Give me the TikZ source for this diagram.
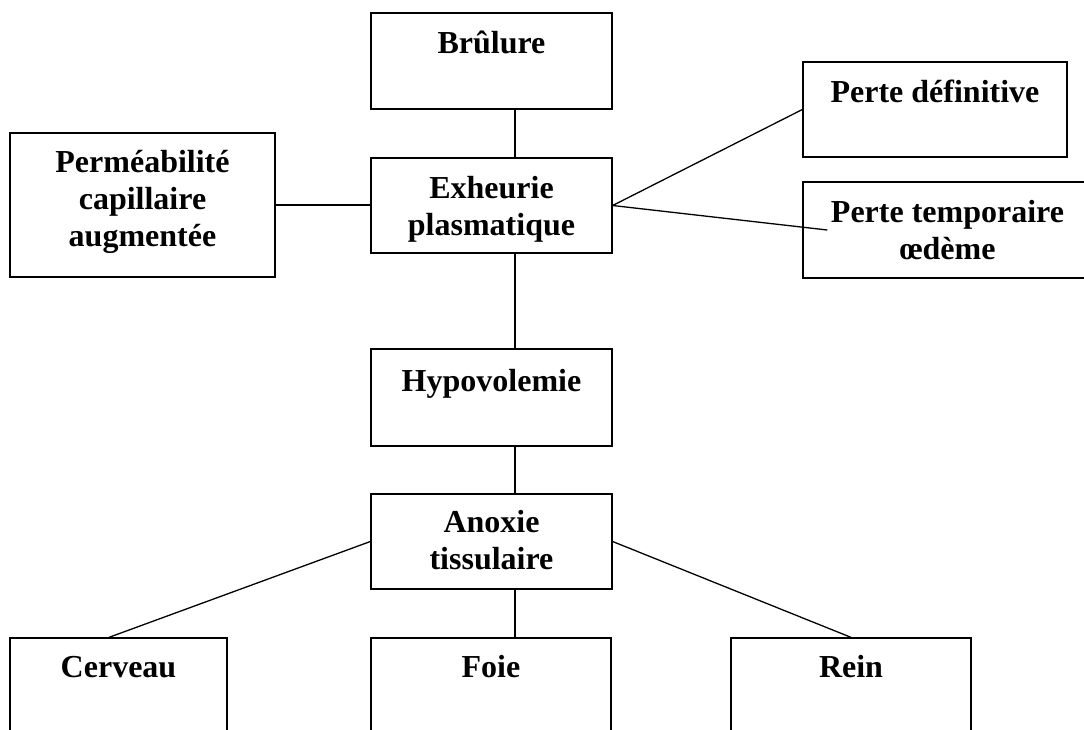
\documentclass[tikz,border=0pt]{standalone}
\usepackage{fontspec}
\setmainfont{Liberation Serif}
\usetikzlibrary{calc}
\newcommand\fstrut{\rule{0pt}{26pt}}
\begin{document}
\begin{tikzpicture}[x=1pt,y=-1pt,
  box/.style={draw=black, line width=1.3pt, rectangle, inner sep=0pt},
  lbl/.style={anchor=north, inner sep=0pt, align=center, font=\fontsize{32}{37}\selectfont\bfseries},
  link/.style={draw=black, line width=1.3pt}]
\useasboundingbox (0,0) rectangle (1084,729);
\clip (0,0) rectangle (1084,729);

% boxes
\node[box, minimum width=241pt, minimum height=96pt]  (brulure)  at (491.5,61)    {};
\node[box, minimum width=241pt, minimum height=95pt]  (exheurie) at (491.5,205.5) {};
\node[box, minimum width=265pt, minimum height=144pt] (perm)     at (142.5,205)   {};
\node[box, minimum width=264pt, minimum height=95pt]  (pdef)     at (935,109.5)   {};
\node[box, minimum width=289pt, minimum height=96pt]  (ptemp)    at (947.5,230)   {};
\node[box, minimum width=241pt, minimum height=97pt]  (hypo)     at (491.5,397.5) {};
\node[box, minimum width=241pt, minimum height=95pt]  (anoxie)   at (491.5,541.5) {};
\node[box, minimum width=217pt, minimum height=100pt] (cerveau)  at (118.5,688)   {};
\node[box, minimum width=240pt, minimum height=100pt] (foie)     at (491,688)     {};
\node[box, minimum width=240pt, minimum height=100pt] (rein)     at (851,688)     {};

% texts
\node[lbl] (tbrulure)  at ($(brulure.north)+(0,15)$)  {\fstrut Brûlure};
\node[lbl] (texheurie) at ($(exheurie.north)+(0,15)$) {\fstrut Exheurie\\plasmatique};
\node[lbl] (tperm)     at ($(perm.north)+(0,14)$)     {\fstrut Perméabilité\\capillaire\\augmentée};
\node[lbl] (tpdef)     at ($(pdef.north)+(0,15)$)     {\fstrut Perte définitive};
\node[lbl] (tptemp)    at ($(ptemp.north)+(0,15)$)    {\fstrut Perte temporaire\\œdème};
\node[lbl] (thypo)     at ($(hypo.north)+(0,17)$)     {\fstrut Hypovolemie};
\node[lbl] (tanoxie)   at ($(anoxie.north)+(0,13)$)   {\fstrut Anoxie\\tissulaire};
\node[lbl] (tcerveau)  at ($(cerveau.north)+(0,14)$)  {\fstrut Cerveau};
\node[lbl] (tfoie)     at ($(foie.north)+(0,14)$)     {\fstrut Foie};
\node[lbl] (trein)     at ($(rein.north)+(0,14)$)     {\fstrut Rein};

% helper coordinates
\coordinate (spine) at (515,0);
\coordinate (ptempend) at ($(ptemp.west)+(25,0)$);
\coordinate (cervtop) at ($(cerveau.north)+(-9.5,0)$);

% connectors
\draw[link] (brulure.south -| spine) -- (exheurie.north -| spine);
\draw[link] (exheurie.south -| spine) -- (hypo.north -| spine);
\draw[link] (hypo.south -| spine) -- (anoxie.north -| spine);
\draw[link] (anoxie.south -| spine) -- (foie.north -| spine);
\draw[link] (perm.east) -- (perm.east -| exheurie.west);
\draw[link] (exheurie.east) -- (pdef.west);
\draw[link] (exheurie.east) -- (ptempend);
\draw[link] (anoxie.west) -- (cervtop);
\draw[link] (anoxie.east) -- (rein.north);
\end{tikzpicture}
\end{document}
